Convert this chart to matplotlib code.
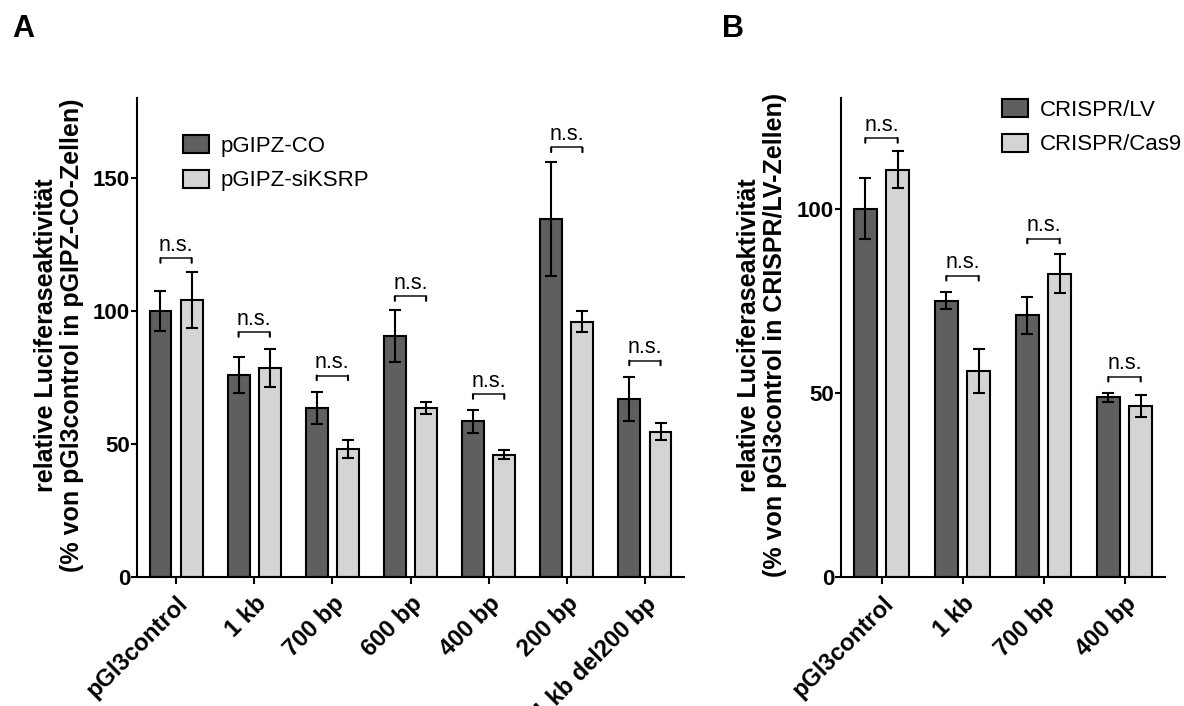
import matplotlib
matplotlib.use('Agg')
import matplotlib.pyplot as plt
from matplotlib.patches import Patch
import numpy as np

plt.rcParams['font.family'] = ['Liberation Sans', 'DejaVu Sans']

# Panel A: pGIPZ knockdown, luciferase reporter constructs
categories_a = ['pGl3control', '1 kb', '700 bp', '600 bp', '400 bp', '200 bp', '1 kb del200 bp']
co_mean = [100, 76, 63.5, 90.5, 58.5, 134.5, 67]
co_err = [7.5, 6.8, 6, 9.7, 4.4, 21.3, 8.2]
si_mean = [104, 78.5, 48, 63.5, 46, 96, 54.5]
si_err = [10.5, 7, 3.3, 2.4, 1.7, 4, 3.2]
ns_a = [119.8, 92, 75.7, 105.5, 68.7, 161.4, 81.3]

# Panel B: CRISPR cells
categories_b = ['pGl3control', '1 kb', '700 bp', '400 bp']
lv_mean = [100, 75, 71, 48.8]
lv_err = [8.2, 2.3, 5, 1.2]
cas9_mean = [110.5, 56, 82.3, 46.4]
cas9_err = [5, 6, 5.3, 3]
ns_b = [119.1, 81.7, 91.8, 54.3]

DARK = '#5f5f5f'
LIGHT = '#d4d4d4'
W = 0.28
OFF = 0.2


def draw_panel(fig, ax, cats, m1, e1, m2, e2, ns, ymax, yticks, legend_labels, legend_xy):
    x = np.arange(len(cats))
    err_kw = dict(ecolor='black', elinewidth=1.5, capsize=4, capthick=1.5)
    ax.bar(x - OFF, m1, W, yerr=e1, color=DARK, edgecolor='black', linewidth=1.5,
           error_kw=err_kw, zorder=2)
    ax.bar(x + OFF, m2, W, yerr=e2, color=LIGHT, edgecolor='black', linewidth=1.5,
           error_kw=err_kw, zorder=2)

    # n.s. brackets between the two bars of each group
    for xi, yb in zip(x, ns):
        ax.plot([xi - OFF, xi + OFF], [yb, yb], color='#333333', lw=1.3,
                solid_capstyle='butt', clip_on=False)
        for xe in (xi - OFF, xi + OFF):
            ax.annotate('', xy=(xe, yb), xytext=(0, -3.3), textcoords='offset points',
                        arrowprops=dict(arrowstyle='-', lw=1.5, color='black',
                                        shrinkA=0, shrinkB=0))
        ax.annotate('n.s.', xy=(xi, yb), xytext=(0, 5.5), textcoords='offset points',
                    ha='center', va='baseline', fontsize=15.5)

    ax.set_xlim(-0.5, len(cats) - 0.5)
    ax.set_ylim(0, ymax)
    ax.set_yticks(yticks)
    ax.set_xticks(x)
    ax.set_xticklabels(cats, rotation=45, ha='right', va='top', rotation_mode='anchor',
                       fontsize=17, fontweight='bold')
    for lab in ax.get_yticklabels():
        lab.set_fontweight('bold')
        lab.set_fontsize(16)
    ax.tick_params(axis='y', length=4, width=1.5, pad=1)
    ax.tick_params(axis='x', length=5, width=1.5, pad=6)
    for s in ('top', 'right'):
        ax.spines[s].set_visible(False)
    for s in ('left', 'bottom'):
        ax.spines[s].set_linewidth(1.5)

    handles = [Patch(facecolor=DARK, edgecolor='black', linewidth=1.5),
               Patch(facecolor=LIGHT, edgecolor='black', linewidth=1.5)]
    ax.legend(handles, legend_labels, loc='upper left',
              bbox_to_anchor=(legend_xy[0] / 1184, 1 - legend_xy[1] / 706),
              bbox_transform=fig.transFigure, frameon=False, fontsize=16,
              handlelength=1.15, handleheight=0.85, handletextpad=0.55,
              labelspacing=0.6, borderpad=0, borderaxespad=0)


fig = plt.figure(figsize=(11.84, 7.06), dpi=100)
ax_a = fig.add_axes([137 / 1184, 129 / 706, 547 / 1184, 479 / 706])
ax_b = fig.add_axes([841 / 1184, 129 / 706, 324 / 1184, 479 / 706])

draw_panel(fig, ax_a, categories_a, co_mean, co_err, si_mean, si_err, ns_a,
           180, [0, 50, 100, 150], ['pGIPZ-CO', 'pGIPZ-siKSRP'], (183, 135))
draw_panel(fig, ax_b, categories_b, lv_mean, lv_err, cas9_mean, cas9_err, ns_b,
           130, [0, 50, 100], ['CRISPR/LV', 'CRISPR/Cas9'], (1002, 99))

fig.text(59 / 1184, 1 - 335 / 706,
         'relative Luciferaseaktivität\n(% von pGl3control in pGIPZ-CO-Zellen)',
         rotation=90, ha='center', va='center', fontsize=18, fontweight='bold',
         linespacing=1.15)
fig.text(762 / 1184, 1 - 335 / 706,
         'relative Luciferaseaktivität\n(% von pGl3control in CRISPR/LV-Zellen)',
         rotation=90, ha='center', va='center', fontsize=18, fontweight='bold',
         linespacing=1.15)

fig.text(12 / 1184, 1 - 37 / 706, 'A', fontsize=22, fontweight='bold')
fig.text(722 / 1184, 1 - 37 / 706, 'B', fontsize=22, fontweight='bold')

fig.savefig('out.png', dpi=100)
